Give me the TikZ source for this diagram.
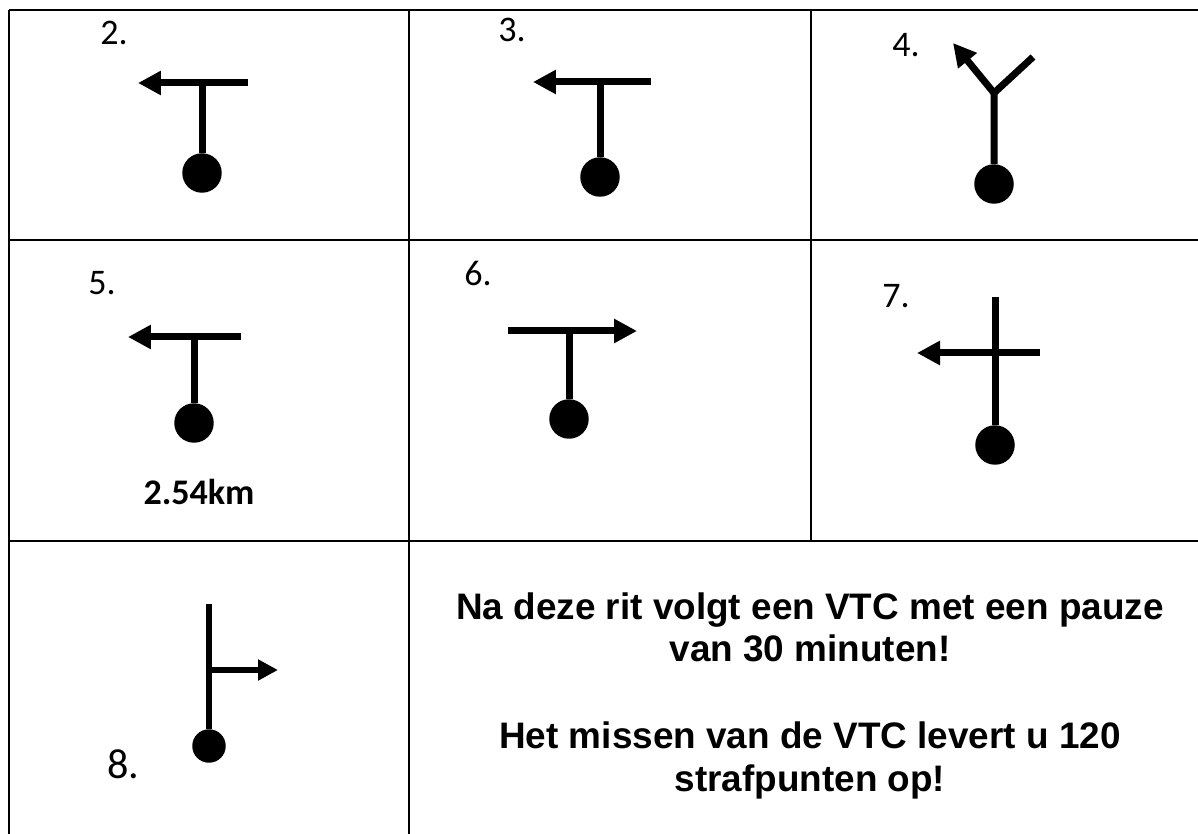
\documentclass[tikz,border=0pt]{standalone}
\usepackage{fontspec}
\setmainfont{Carlito}
\newfontfamily\notefont{Liberation Sans}
\usetikzlibrary{arrows.meta}
\tikzset{
  grid/.style={line width=0.04cm},
  road/.style={line width=0.14cm},
  turn/.style={road,-{Triangle[length=0.46cm,width=0.46cm]}},
  thinroad/.style={line width=0.12cm},
  thinturn/.style={thinroad,-{Triangle[length=0.4cm,width=0.4cm]}},
  blob/.style={fill,circle,inner sep=0pt,minimum size=0.79cm},
  num/.style={anchor=base west,inner sep=0pt,font=\fontsize{20.5}{24}\selectfont},
  note/.style={anchor=base,inner sep=0pt,font=\notefont\bfseries\fontsize{21}{25}\selectfont}
}

\begin{document}
\begin{tikzpicture}[x=0.02cm,y=-0.02cm]
  \useasboundingbox (0,0) rectangle (1198,834);
  \fill[white] (0,0) rectangle (1198,834);
  % table
  \draw[grid] (9,10) -- (1200,10) (9,240) -- (1200,240) (9,541) -- (1200,541);
  \draw[grid] (9,10) -- (9,836) (409,10) -- (409,836) (811,10) -- (811,541);

  % 2.
  \node[num] (l2) at (100,45) {2.};
  \coordinate (e2) at (248,83); \coordinate (t2) at (138,83); \coordinate (j2) at (202,83);
  \node[blob] (d2) at (202,173) {};
  \draw[turn] (e2) -- (t2);
  \draw[road] (j2) -- (d2);

  % 3.
  \node[num] (l3) at (498,42) {3.};
  \coordinate (e3) at (651,82); \coordinate (t3) at (533,82); \coordinate (j3) at (600,82);
  \node[blob] (d3) at (600,177) {};
  \draw[turn] (e3) -- (t3);
  \draw[road] (j3) -- (d3);

  % 4.
  \node[num] (l4) at (892,57) {4.};
  \coordinate (j4) at (994,93); \coordinate (r4) at (1033,57); \coordinate (t4) at (953,43);
  \node[blob] (d4) at (994,184) {};
  \draw[road] (d4) -- (j4) -- (r4);
  \draw[turn] (j4) -- (t4);

  % 5.
  \node[num] (l5) at (88,295) {5.};
  \coordinate (e5) at (241,337); \coordinate (t5) at (128,337); \coordinate (j5) at (194,337);
  \node[blob] (d5) at (194,423) {};
  \draw[turn] (e5) -- (t5);
  \draw[road] (j5) -- (d5);
  \node[anchor=base,inner sep=0pt,font=\bfseries\fontsize{20.5}{24}\selectfont] (km) at (199,505) {2.54km};

  % 6.
  \node[num] (l6) at (464,286) {6.};
  \coordinate (e6) at (508,331); \coordinate (t6) at (637,331); \coordinate (j6) at (569,331);
  \node[blob] (d6) at (569,419) {};
  \draw[turn] (e6) -- (t6);
  \draw[road] (j6) -- (d6);

  % 7.
  \node[num] (l7) at (882,308) {7.};
  \coordinate (e7) at (1040,353); \coordinate (t7) at (917,353); \coordinate (s7) at (995,297);
  \node[blob] (d7) at (995,445) {};
  \draw[turn] (e7) -- (t7);
  \draw[road] (s7) -- (d7);

  % 8.
  \node[num,font=\fontsize{24}{28}\selectfont] (l8) at (107,779) {8.};
  \coordinate (s8) at (209,604); \coordinate (j8) at (209,670); \coordinate (t8) at (278,670);
  \node[blob,minimum size=0.67cm] (d8) at (209,746) {};
  \draw[thinroad] (s8) -- (d8);
  \draw[thinturn] (j8) -- (t8);

  % VTC
  \node[note] (n1) at (810,620) {Na deze rit volgt een VTC met een pauze};
  \node[note] (n2) at (810,662) {van 30 minuten!};
  \node[note] (n3) at (810,748) {Het missen van de VTC levert u 120};
  \node[note] (n4) at (810,791) {strafpunten op!};
\end{tikzpicture}
\end{document}
